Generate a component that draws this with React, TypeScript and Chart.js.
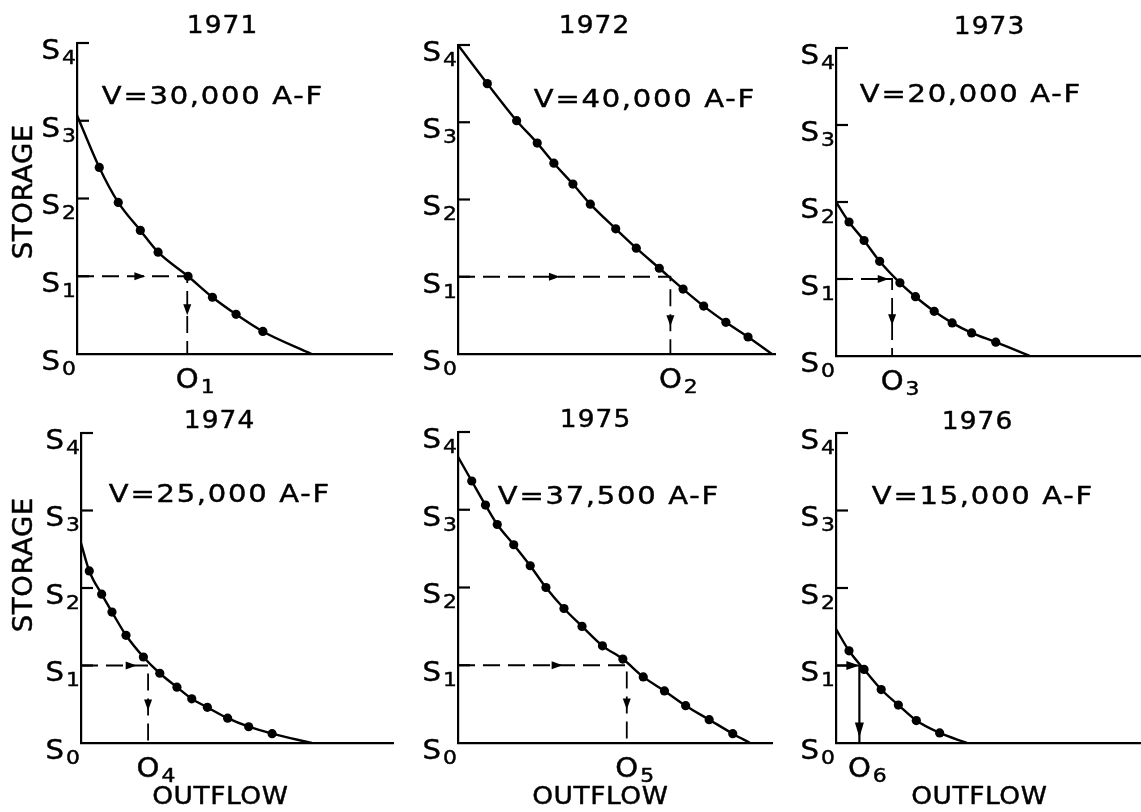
import React, { useEffect, useRef } from "react";
import { Chart, registerables } from "chart.js";

Chart.register(...registerables);

// ---------- DATA ----------
const years = ["1971", "1972", "1973", "1974", "1975", "1976"];
const volumes = ["V=30,000 A-F", "V=40,000 A-F", "V=20,000 A-F", "V=25,000 A-F", "V=37,500 A-F", "V=15,000 A-F"];
const storageTicks = ["S₀", "S₁", "S₂", "S₃", "S₄"];
const outflowLabels = ["O₁", "O₂", "O₃", "O₄", "O₅", "O₆"];
const storageTitle = "STORAGE";
const outflowTitle = "OUTFLOW";

// storage-outflow curves (first and last entries are the curve ends on the axes)
const outflow1971 = [0, 0.283, 0.524, 0.804, 1.03, 1.41, 1.72, 2.02, 2.36, 2.98];
const storage1971 = [3.07, 2.4, 1.95, 1.59, 1.31, 1.0, 0.73, 0.51, 0.29, 0];

const outflow1972 = [0, 0.37, 0.74, 1.0, 1.21, 1.45, 1.67, 1.99, 2.25, 2.54, 2.84, 3.1, 3.38, 3.66, 3.96];
const storage1972 = [4.0, 3.5, 3.02, 2.73, 2.47, 2.2, 1.94, 1.62, 1.37, 1.11, 0.84, 0.62, 0.41, 0.22, 0];

const outflow1973 = [0, 0.167, 0.36, 0.56, 0.82, 1.02, 1.26, 1.49, 1.74, 2.05, 2.49];
const storage1973 = [2.0, 1.74, 1.5, 1.23, 0.95, 0.77, 0.58, 0.43, 0.3, 0.18, 0];

const outflow1974 = [0, 0.106, 0.265, 0.397, 0.577, 0.8, 1.01, 1.23, 1.42, 1.62, 1.88, 2.15, 2.45, 2.96];
const storage1974 = [2.58, 2.22, 1.92, 1.69, 1.39, 1.11, 0.9, 0.72, 0.57, 0.46, 0.32, 0.21, 0.12, 0];

const outflow1975 = [0, 0.175, 0.35, 0.5, 0.71, 0.92, 1.12, 1.35, 1.58, 1.84, 2.1, 2.36, 2.63, 2.9, 3.2, 3.5, 3.72];
const storage1975 = [3.68, 3.37, 3.06, 2.81, 2.55, 2.28, 2.0, 1.73, 1.5, 1.25, 1.08, 0.85, 0.67, 0.48, 0.3, 0.12, 0];

const outflow1976 = [0, 0.167, 0.36, 0.58, 0.8, 1.03, 1.33, 1.68];
const storage1976 = [1.47, 1.19, 0.95, 0.69, 0.49, 0.29, 0.13, 0];

const outflowSeries = [outflow1971, outflow1972, outflow1973, outflow1974, outflow1975, outflow1976];
const storageSeries = [storage1971, storage1972, storage1973, storage1974, storage1975, storage1976];

// design storage S1 and the resulting outflow O_i
const designStorage = [1, 1, 1, 1, 1, 1];
const designOutflow = [1.4, 2.68, 0.72, 0.86, 2.15, 0.3];

// ---------- LAYOUT (page pixel positions) ----------
type Layout = {
  cell: [number, number, number, number];
  area: [number, number, number, number];
  xMax: number;
  year: [number, number];
  vol: [number, number];
  storage?: [number, number];
  outflow?: [number, number];
  arrowH: number;
  arrowV: number;
  dashed: boolean;
};

const LAYOUT: Layout[] = [
  { cell: [0, 0, 400, 400], area: [77, 43, 392, 354], xMax: 4, year: [222, 27], vol: [212, 97], storage: [25, 192], arrowH: 0.62, arrowV: 0.5, dashed: true },
  { cell: [400, 0, 390, 400], area: [458, 45, 775, 354], xMax: 4, year: [594, 27], vol: [644, 100], arrowH: 0.48, arrowV: 0.64, dashed: true },
  { cell: [790, 0, 351, 400], area: [836, 48, 1140, 356], xMax: 3.9, year: [989, 28], vol: [970, 95], arrowH: 0.94, arrowV: 0.6, dashed: true },
  { cell: [0, 400, 400, 412], area: [81, 433, 393, 743], xMax: 4, year: [219, 422], vol: [219, 495], storage: [25, 565], outflow: [220, 797], arrowH: 0.83, arrowV: 0.58, dashed: true },
  { cell: [400, 400, 390, 412], area: [458, 432, 772, 743], xMax: 4, year: [595, 421], vol: [608, 497], outflow: [600, 797], arrowH: 0.62, arrowV: 0.57, dashed: true },
  { cell: [790, 400, 351, 412], area: [836, 433, 1140, 743], xMax: 3.9, year: [977, 423], vol: [982, 497], outflow: [979, 797], arrowH: 1.0, arrowV: 0.93, dashed: false },
];

const FONT = '"DejaVu Sans", sans-serif';
const TEXT_STROKE = 0.45;
const SUB_MAP: Record<string, string> = { "₀": "0", "₁": "1", "₂": "2", "₃": "3", "₄": "4", "₅": "5", "₆": "6", "₇": "7", "₈": "8", "₉": "9" };

type TextOpts = { size: number; sx?: number; spacing?: number; align?: CanvasTextAlign; baseline?: CanvasTextBaseline; stroke?: number };

function measure(ctx: CanvasRenderingContext2D, text: string, o: TextOpts) {
  ctx.save();
  ctx.font = `${o.size}px ${FONT}`;
  (ctx as any).letterSpacing = `${o.spacing ?? 0}px`;
  const w = ctx.measureText(text).width - (o.spacing ?? 0);
  ctx.restore();
  return w * (o.sx ?? 1);
}

function drawText(ctx: CanvasRenderingContext2D, text: string, x: number, y: number, o: TextOpts, rotate = 0) {
  ctx.save();
  ctx.font = `${o.size}px ${FONT}`;
  (ctx as any).letterSpacing = `${o.spacing ?? 0}px`;
  ctx.textAlign = o.align ?? "center";
  ctx.textBaseline = o.baseline ?? "middle";
  ctx.fillStyle = "#000";
  ctx.strokeStyle = "#000";
  const sw = o.stroke ?? TEXT_STROKE;
  ctx.lineWidth = sw;
  ctx.lineJoin = "round";
  ctx.translate(x, y);
  if (rotate) ctx.rotate(rotate);
  ctx.scale(o.sx ?? 1, 1);
  const sp = o.spacing ?? 0;
  const shift = ctx.textAlign === "center" ? sp / 2 : ctx.textAlign === "right" || ctx.textAlign === "end" ? sp : 0;
  ctx.fillText(text, shift, 0);
  if (sw > 0) ctx.strokeText(text, shift, 0);
  ctx.restore();
}

// label with a subscript: big base letter, smaller lowered digit
function splitSub(label: string) {
  const base = label.slice(0, 1);
  const sub = label
    .slice(1)
    .split("")
    .map((c) => SUB_MAP[c] ?? c)
    .join("");
  return { base, sub };
}

const BASE_OPTS: TextOpts = { size: 26, sx: 1.12, align: "left", baseline: "alphabetic" };
const SUB_OPTS: TextOpts = { size: 19, sx: 1.15, align: "left", baseline: "alphabetic" };

function drawSubLabel(ctx: CanvasRenderingContext2D, label: string, x: number, capTop: number, anchor: "right" | "baseCenter") {
  const { base, sub } = splitSub(label);
  const wb = measure(ctx, base, BASE_OPTS);
  const ws = measure(ctx, sub, SUB_OPTS);
  const gap = 2;
  const capH = 0.729 * BASE_OPTS.size;
  const left = anchor === "right" ? x - (wb + gap + ws) : x - wb / 2;
  const baseline = capTop + capH;
  drawText(ctx, base, left, baseline, BASE_OPTS);
  drawText(ctx, sub, left + wb + gap, baseline + 5, SUB_OPTS);
}

function drawArrow(ctx: CanvasRenderingContext2D, x: number, y: number, dir: "right" | "down", len = 11, half = 4) {
  ctx.beginPath();
  if (dir === "right") {
    ctx.moveTo(x, y);
    ctx.lineTo(x - len, y - half);
    ctx.lineTo(x - len, y + half);
  } else {
    ctx.moveTo(x, y);
    ctx.lineTo(x - half, y - len);
    ctx.lineTo(x + half, y - len);
  }
  ctx.closePath();
  ctx.fill();
}

function annotationPlugin(i: number) {
  return {
    id: "annot" + i,
    afterDatasetsDraw(chart: any) {
      const L = LAYOUT[i];
      const { ctx, chartArea: ca } = chart;
      const xs = chart.scales.x;
      const ys = chart.scales.y;
      const ox = L.cell[0];
      const oy = L.cell[1];
      ctx.save();
      ctx.strokeStyle = "#000";
      ctx.fillStyle = "#000";
      ctx.lineWidth = 2.2;
      // inward tick marks + labels on the storage axis
      ys.ticks.forEach((t: any) => {
        const py = ys.getPixelForValue(t.value);
        if (t.value > 0) {
          ctx.beginPath();
          ctx.moveTo(ca.left, py);
          ctx.lineTo(ca.left + 12, py);
          ctx.stroke();
        }
        const lab = storageTicks[Math.round(t.value)];
        if (lab) drawSubLabel(ctx, lab, ca.left - 1, py - 3, "right");
      });
      // outflow label under the design outflow
      const o = xs.getPixelForValue(designOutflow[i]);
      drawSubLabel(ctx, outflowLabels[i], o, ca.bottom + 15, "baseCenter");
      // arrowheads on the guide lines
      const s1 = ys.getPixelForValue(designStorage[i]);
      const s0 = ys.getPixelForValue(0);
      const x0 = xs.getPixelForValue(0);
      const big = !L.dashed;
      drawArrow(ctx, x0 + L.arrowH * (o - x0), s1, "right", big ? 13 : 11, big ? 4.5 : 4);
      drawArrow(ctx, o, s1 + L.arrowV * (s0 - s1), "down", big ? 15 : 11, big ? 4.5 : 4);
      // titles
      drawText(ctx, years[i], L.year[0] - ox, L.year[1] - oy, { size: 24, sx: 1.1, spacing: 1 });
      drawText(ctx, volumes[i], L.vol[0] - ox, L.vol[1] - oy, { size: 25, sx: 1.16, spacing: 1.5 });
      if (L.outflow) {
        drawText(ctx, outflowTitle, L.outflow[0] - ox, L.outflow[1] - oy, { size: 25, sx: 1.06, spacing: 0.5 });
      }
      if (L.storage) {
        drawText(ctx, storageTitle, L.storage[0] - ox, L.storage[1] - oy, { size: 26, sx: 1.06, spacing: 0.5 }, -Math.PI / 2);
      }
      ctx.restore();
    },
  };
}

function Panel({ index }: { index: number }) {
  const ref = useRef<HTMLCanvasElement | null>(null);
  const L = LAYOUT[index];
  const [cx, cy, cw, chh] = L.cell;
  const [al, at, ar, ab] = L.area;

  useEffect(() => {
    if (!ref.current) return;
    const xsArr = outflowSeries[index];
    const ysArr = storageSeries[index];
    const curve = xsArr.map((x, j) => ({ x, y: ysArr[j] }));
    const last = curve.length - 1;
    const O = designOutflow[index];
    const S = designStorage[index];
    const guide = [
      { x: 0, y: S },
      { x: O, y: S },
      { x: O, y: 0 },
    ];
    const chart = new Chart(ref.current, {
      type: "line",
      data: {
        datasets: [
          {
            data: curve,
            borderColor: "#000",
            borderWidth: 2.4,
            pointRadius: curve.map((_, j) => (j === 0 || j === last ? 0 : 4.6)),
            pointBackgroundColor: "#000",
            pointBorderColor: "#000",
            pointBorderWidth: 0,
            cubicInterpolationMode: "monotone",
            fill: false,
          },
          {
            data: guide,
            borderColor: "#000",
            borderWidth: L.dashed ? 1.8 : 2.2,
            borderDash: L.dashed ? [17, 8] : [],
            pointRadius: 0,
            tension: 0,
            fill: false,
          },
        ],
      },
      options: {
        animation: false,
        responsive: false,
        maintainAspectRatio: false,
        events: [],
        layout: { padding: { top: at - cy, right: cx + cw - ar, left: 0, bottom: 0 } },
        plugins: { legend: { display: false }, tooltip: { enabled: false }, title: { display: false } },
        scales: {
          x: {
            type: "linear",
            min: 0,
            max: L.xMax,
            grid: { display: false, drawTicks: false },
            border: { display: true, color: "#000", width: 2.2 },
            ticks: { display: false },
            afterFit: (s: any) => {
              s.height = cy + chh - ab;
            },
          },
          y: {
            type: "linear",
            min: 0,
            max: 4,
            grid: { display: false, drawTicks: false },
            border: { display: true, color: "#000", width: 2.2 },
            ticks: { display: false, stepSize: 1 },
            afterFit: (s: any) => {
              s.width = al - cx;
            },
          },
        },
      } as any,
      plugins: [annotationPlugin(index)],
    });
    return () => chart.destroy();
  }, [index]);

  return (
    <canvas
      ref={ref}
      width={cw}
      height={chh}
      style={{ position: "absolute", left: cx, top: cy, width: cw, height: chh }}
    />
  );
}

export default function App() {
  return (
    <div
      style={{
        position: "fixed",
        left: 0,
        top: 0,
        width: 1141,
        height: 812,
        overflow: "hidden",
        background: "#fff",
      }}
    >
      {LAYOUT.map((_, i) => (
        <Panel key={i} index={i} />
      ))}
    </div>
  );
}
